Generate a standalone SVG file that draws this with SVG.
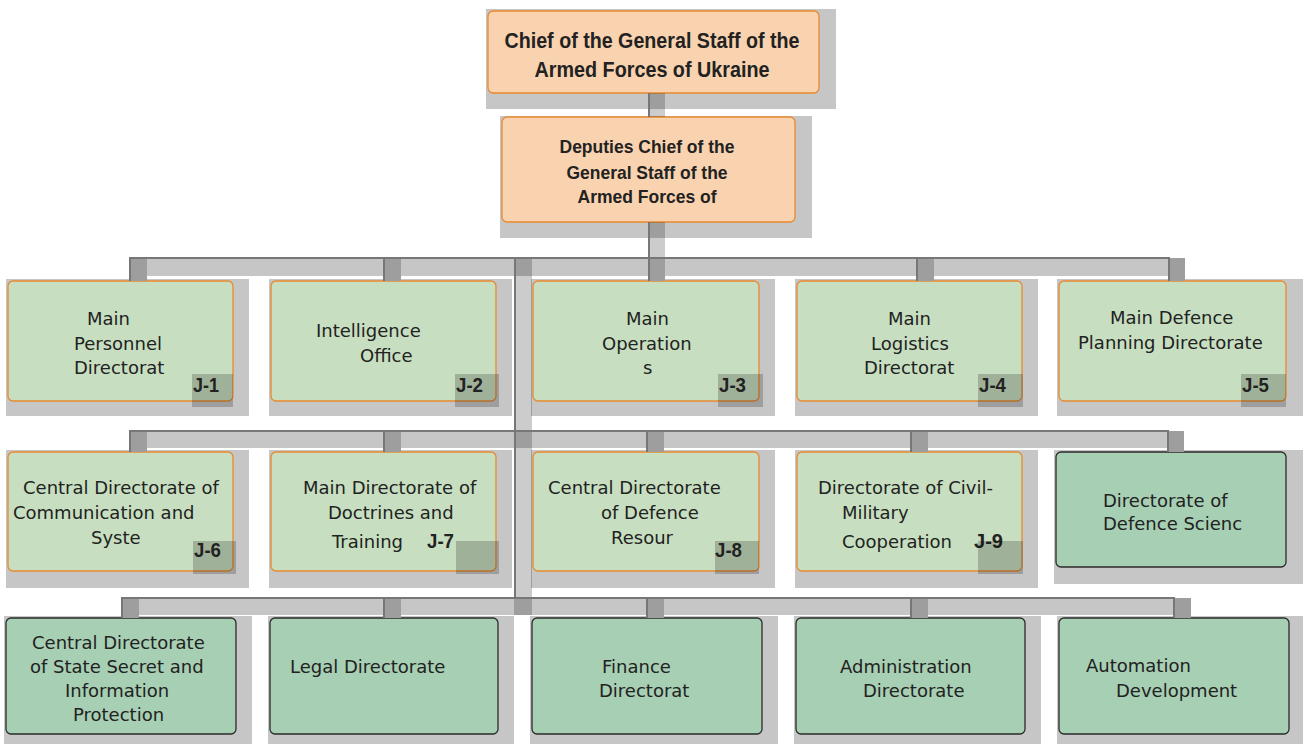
<svg xmlns="http://www.w3.org/2000/svg" width="1303" height="744" viewBox="0 0 1303 744">
<style>
.sh{fill:#c6c6c6}
.or{fill:#f9d3af;stroke:#e98a2f;stroke-width:1.3}
.lg{fill:#c7dfc0;stroke:#e98a2f;stroke-width:1.3}
.dg{fill:#a7cfb3;stroke:#2b2b2b;stroke-width:1.3}
.t{font-family:"DejaVu Sans","Noto Sans",sans-serif;font-size:18px;fill:#222}
.tb{font-family:"Liberation Sans",Arial,sans-serif;font-weight:bold;fill:#222;text-anchor:middle}
.jr{fill:#000;fill-opacity:0.2}
.jt{font-family:"Liberation Sans",Arial,sans-serif;font-weight:bold;font-size:20px;fill:#222}
.hb{fill:#c6c6c6}
.db{fill:#9e9e9e}
.tr{fill:#000;fill-opacity:0.2}
.ln{fill:none;stroke:#777;stroke-width:2}
</style>
<rect width="1303" height="744" fill="#fff"/>

<g id="n-chief">
<rect class="sh" x="486" y="9" width="350" height="100"/>
<rect class="or" x="488" y="11" width="331" height="82" rx="5"/>
<text class="tb" x="652" y="48" font-size="22" textLength="295" lengthAdjust="spacingAndGlyphs">Chief of the General Staff of the</text>
<text class="tb" x="652" y="77" font-size="22" textLength="235" lengthAdjust="spacingAndGlyphs">Armed Forces of Ukraine</text>
</g>

<g id="n-deputies">
<rect class="sh" x="500" y="116" width="312" height="122"/>
<rect class="or" x="502" y="117" width="293" height="105" rx="5"/>
<text class="tb" x="647" y="153" font-size="19" textLength="175" lengthAdjust="spacingAndGlyphs">Deputies Chief of the</text>
<text class="tb" x="647" y="179" font-size="19" textLength="161" lengthAdjust="spacingAndGlyphs">General Staff of the</text>
<text class="tb" x="647" y="203" font-size="19" textLength="139" lengthAdjust="spacingAndGlyphs">Armed Forces of</text>
</g>

<g id="n-j1">
<rect class="sh" x="6" y="279" width="243" height="137"/>
<rect class="lg" x="8" y="281" width="225" height="120" rx="5"/>
<text class="t" x="87" y="325">Main</text>
<text class="t" x="74" y="350">Personnel</text>
<text class="t" x="74" y="374">Directorat</text>
<rect class="jr" x="192" y="374" width="41" height="33"/>
<text class="jt" x="193" y="392" textLength="26" lengthAdjust="spacingAndGlyphs">J-1</text>
</g>

<g id="n-j2">
<rect class="sh" x="269" y="279" width="243" height="137"/>
<rect class="lg" x="271" y="281" width="225" height="120" rx="5"/>
<text class="t" x="316" y="337">Intelligence</text>
<text class="t" x="360" y="362">Office</text>
<rect class="jr" x="455" y="374" width="44" height="33"/>
<text class="jt" x="456" y="392" textLength="27" lengthAdjust="spacingAndGlyphs">J-2</text>
</g>

<g id="n-j3">
<rect class="sh" x="531" y="279" width="244" height="137"/>
<rect class="lg" x="533" y="281" width="226" height="120" rx="5"/>
<text class="t" x="626" y="325">Main</text>
<text class="t" x="602" y="350">Operation</text>
<text class="t" x="643" y="374">s</text>
<rect class="jr" x="718" y="374" width="45" height="33"/>
<text class="jt" x="719" y="392" textLength="27" lengthAdjust="spacingAndGlyphs">J-3</text>
</g>

<g id="n-j4">
<rect class="sh" x="795" y="279" width="243" height="137"/>
<rect class="lg" x="797" y="281" width="225" height="120" rx="5"/>
<text class="t" x="888" y="325">Main</text>
<text class="t" x="871" y="350">Logistics</text>
<text class="t" x="864" y="374">Directorat</text>
<rect class="jr" x="978" y="374" width="45" height="33"/>
<text class="jt" x="979" y="392" textLength="27" lengthAdjust="spacingAndGlyphs">J-4</text>
</g>

<g id="n-j5">
<rect class="sh" x="1057" y="279" width="246" height="137"/>
<rect class="lg" x="1059" y="281" width="227" height="120" rx="5"/>
<text class="t" x="1110" y="324">Main Defence</text>
<text class="t" x="1078" y="349">Planning Directorate</text>
<rect class="jr" x="1241" y="374" width="45" height="33"/>
<text class="jt" x="1242" y="392" textLength="27" lengthAdjust="spacingAndGlyphs">J-5</text>
</g>

<g id="n-j6">
<rect class="sh" x="6" y="450" width="243" height="138"/>
<rect class="lg" x="8" y="452" width="225" height="119" rx="5"/>
<text class="t" x="23" y="494">Central Directorate of</text>
<text class="t" x="13" y="519">Communication and</text>
<text class="t" x="91" y="544">Syste</text>
<rect class="jr" x="193" y="541" width="43" height="33"/>
<text class="jt" x="194" y="557" textLength="27" lengthAdjust="spacingAndGlyphs">J-6</text>
</g>

<g id="n-j7">
<rect class="sh" x="269" y="450" width="243" height="138"/>
<rect class="lg" x="271" y="452" width="225" height="119" rx="5"/>
<text class="t" x="303" y="494">Main Directorate of</text>
<text class="t" x="328" y="519">Doctrines and</text>
<text class="t" x="332" y="548">Training</text>
<text class="jt" x="427" y="548" textLength="27" lengthAdjust="spacingAndGlyphs">J-7</text>
<rect class="jr" x="456" y="541" width="43" height="33"/>
</g>

<g id="n-j8">
<rect class="sh" x="531" y="450" width="244" height="138"/>
<rect class="lg" x="533" y="452" width="226" height="119" rx="5"/>
<text class="t" x="548" y="494">Central Directorate</text>
<text class="t" x="601" y="519">of Defence</text>
<text class="t" x="611" y="544">Resour</text>
<rect class="jr" x="715" y="541" width="44" height="33"/>
<text class="jt" x="715" y="557" textLength="27" lengthAdjust="spacingAndGlyphs">J-8</text>
</g>

<g id="n-j9">
<rect class="sh" x="795" y="450" width="243" height="138"/>
<rect class="lg" x="797" y="452" width="225" height="119" rx="5"/>
<text class="t" x="818" y="494">Directorate of Civil-</text>
<text class="t" x="842" y="519">Military</text>
<text class="t" x="842" y="548">Cooperation</text>
<text class="jt" x="974" y="548" textLength="29" lengthAdjust="spacingAndGlyphs">J-9</text>
<rect class="jr" x="978" y="541" width="45" height="33"/>
</g>

<g id="n-science">
<rect class="sh" x="1054" y="450" width="249" height="134"/>
<rect class="dg" x="1056" y="452" width="230" height="115" rx="5"/>
<text class="t" x="1103" y="507">Directorate of</text>
<text class="t" x="1103" y="530">Defence Scienc</text>
</g>

<g id="n-secret">
<rect class="sh" x="4" y="616" width="248" height="128"/>
<rect class="dg" x="6" y="618" width="230" height="116" rx="5"/>
<text class="t" x="32" y="649">Central Directorate</text>
<text class="t" x="30" y="673">of State Secret and</text>
<text class="t" x="65" y="697">Information</text>
<text class="t" x="73" y="721">Protection</text>
</g>

<g id="n-legal">
<rect class="sh" x="268" y="616" width="246" height="128"/>
<rect class="dg" x="270" y="618" width="228" height="116" rx="5"/>
<text class="t" x="290" y="673">Legal Directorate</text>
</g>

<g id="n-finance">
<rect class="sh" x="530" y="616" width="248" height="128"/>
<rect class="dg" x="532" y="618" width="230" height="116" rx="5"/>
<text class="t" x="602" y="673">Finance</text>
<text class="t" x="599" y="697">Directorat</text>
</g>

<g id="n-admin">
<rect class="sh" x="794" y="616" width="247" height="128"/>
<rect class="dg" x="796" y="618" width="229" height="116" rx="5"/>
<text class="t" x="840" y="673">Administration</text>
<text class="t" x="863" y="697">Directorate</text>
</g>

<g id="n-automation">
<rect class="sh" x="1057" y="616" width="246" height="128"/>
<rect class="dg" x="1059" y="618" width="230" height="116" rx="5"/>
<text class="t" x="1086" y="672">Automation</text>
<text class="t" x="1116" y="697">Development</text>
</g>

<g id="connectors">
<rect class="hb" x="129" y="258" width="1055" height="18"/>
<rect class="hb" x="129" y="431" width="1055" height="17"/>
<rect class="hb" x="121" y="598" width="1070" height="17"/>
<rect class="db" x="129" y="258" width="18" height="23"/>
<rect class="db" x="383" y="258" width="18" height="23"/>
<rect class="db" x="648" y="258" width="17" height="23"/>
<rect class="db" x="916" y="258" width="18" height="23"/>
<rect class="db" x="1168" y="258" width="17" height="23"/>
<rect class="db" x="129" y="431" width="18" height="21"/>
<rect class="db" x="383" y="431" width="18" height="21"/>
<rect class="db" x="646" y="431" width="18" height="21"/>
<rect class="db" x="910" y="431" width="18" height="21"/>
<rect class="db" x="1167" y="431" width="17" height="21"/>
<rect class="db" x="121" y="598" width="18" height="20"/>
<rect class="db" x="383" y="598" width="18" height="20"/>
<rect class="db" x="646" y="598" width="18" height="20"/>
<rect class="db" x="910" y="598" width="18" height="20"/>
<rect class="db" x="1173" y="598" width="18" height="20"/>
<rect class="tr" x="648" y="93" width="17" height="24"/>
<rect class="tr" x="648" y="222" width="17" height="36"/>
<rect class="tr" x="514" y="258" width="18" height="357"/>
<path class="ln" d="M649,93 V117 M649,222 V258"/>
<path class="ln" d="M515,258 V598"/>
<path class="ln" d="M130,281 V258 H1169 V281 M384,258 V281 M649,258 V281 M917,258 V281"/>
<path class="ln" d="M130,452 V431 H1168 V452 M384,431 V452 M647,431 V452 M911,431 V452"/>
<path class="ln" d="M122,618 V598 H1174 V618 M384,598 V618 M647,598 V618 M911,598 V618"/>
</g>
</svg>
